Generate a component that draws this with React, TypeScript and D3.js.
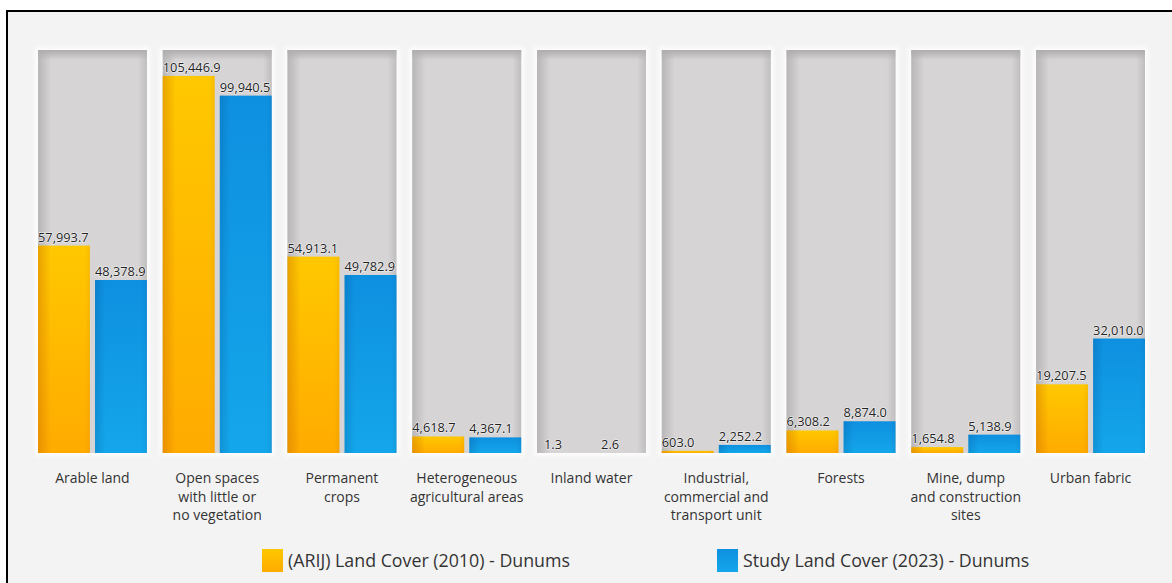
import React from "react";
import * as d3 from "d3";

const categories = [
  "Arable land",
  "Open spaces with little or no vegetation",
  "Permanent crops",
  "Heterogeneous agricultural areas",
  "Inland water",
  "Industrial, commercial and transport unit",
  "Forests",
  "Mine, dump and construction sites",
  "Urban fabric",
];
const categoryLines = [
  ["Arable land"],
  ["Open spaces", "with little or", "no vegetation"],
  ["Permanent", "crops"],
  ["Heterogeneous", "agricultural areas"],
  ["Inland water"],
  ["Industrial,", "commercial and", "transport unit"],
  ["Forests"],
  ["Mine, dump", "and construction", "sites"],
  ["Urban fabric"],
];
const arij2010 = [57993.7, 105446.9, 54913.1, 4618.7, 1.3, 603.0, 6308.2, 1654.8, 19207.5];
const study2023 = [48378.9, 99940.5, 49782.9, 4367.1, 2.6, 2252.2, 8874.0, 5138.9, 32010.0];
const seriesNames = ["(ARIJ) Land Cover (2010) - Dunums", "Study Land Cover (2023) - Dunums"];
const seriesKeys = ["arij", "study"];
const yMax = 112700;

const W = 1172;
const H = 583;
const FONT = "'Open Sans', 'DejaVu Sans', sans-serif";

export default function App() {
  const x = d3.scaleBand<string>().domain(categories).range([38, 1145]).paddingInner(0.127).paddingOuter(0);
  const xs = d3.scaleBand<string>().domain(seriesKeys).range([0, x.bandwidth()]).paddingInner(0.09);
  const y = d3.scaleLinear().domain([0, yMax]).range([453, 50]);
  const fmt = d3.format(",.1f");
  const series = [arij2010, study2023];
  const fills = ["url(#gYellow)", "url(#gBlue)"];
  const legendX = [262, 717];

  return (
    <div style={{ position: "fixed", left: 0, top: 0, width: W, height: H }}>
      <svg width={W} height={H} style={{ display: "block" }}>
        <defs>
          <linearGradient id="gYellow" x1="0" y1="0" x2="0" y2="1">
            <stop offset="0" stopColor="#ffc800" />
            <stop offset="1" stopColor="#ffab00" />
          </linearGradient>
          <linearGradient id="gBlue" x1="0" y1="0" x2="0" y2="1">
            <stop offset="0" stopColor="#0e90e0" />
            <stop offset="1" stopColor="#14a6ea" />
          </linearGradient>
          <linearGradient id="gEdge" x1="0" y1="0" x2="1" y2="0">
            <stop offset="0" stopColor="#c06000" stopOpacity="0.35" />
            <stop offset="0.25" stopColor="#c06000" stopOpacity="0" />
            <stop offset="0.9" stopColor="#c06000" stopOpacity="0" />
            <stop offset="1" stopColor="#c06000" stopOpacity="0.12" />
          </linearGradient>
          <linearGradient id="gEdgeB" x1="0" y1="0" x2="1" y2="0">
            <stop offset="0" stopColor="#004080" stopOpacity="0.2" />
            <stop offset="0.2" stopColor="#004080" stopOpacity="0" />
            <stop offset="0.9" stopColor="#004080" stopOpacity="0" />
            <stop offset="1" stopColor="#004080" stopOpacity="0.1" />
          </linearGradient>
          <linearGradient id="gPanelTop" x1="0" y1="0" x2="0" y2="1">
            <stop offset="0" stopColor="#a9a7a7" stopOpacity="0.9" />
            <stop offset="1" stopColor="#a9a7a7" stopOpacity="0" />
          </linearGradient>
          <linearGradient id="gPanelSide" x1="0" y1="0" x2="1" y2="0">
            <stop offset="0" stopColor="#b0aeae" stopOpacity="0.8" />
            <stop offset="0.12" stopColor="#b0aeae" stopOpacity="0" />
            <stop offset="0.92" stopColor="#b0aeae" stopOpacity="0" />
            <stop offset="1" stopColor="#b0aeae" stopOpacity="0.6" />
          </linearGradient>
          <filter id="glow" x="-10%" y="-10%" width="120%" height="120%">
            <feGaussianBlur stdDeviation="2" />
          </filter>
        </defs>
        <rect x={0} y={0} width={W} height={H} fill="#ffffff" />
        <rect x={8} y={12} width={W - 8} height={H - 12} fill="#f3f3f3" />
        <line x1={7} x2={W} y1={11} y2={11} stroke="#000" strokeWidth={2} />
        <line x1={7} x2={7} y1={10} y2={H} stroke="#000" strokeWidth={2} />

        {categories.map((c, i) => {
          const px = x(c)!;
          const pw = x.bandwidth();
          const top = y(yMax);
          const ph = y(0) - top;
          return (
            <g key={c}>
              <rect x={px - 3} y={top - 3} width={pw + 6} height={ph + 6} fill="#fdfdfd" filter="url(#glow)" />
              <rect x={px} y={top} width={pw} height={ph} fill="#d6d4d4" />
              <rect x={px} y={top} width={pw} height={10} fill="url(#gPanelTop)" />
              <rect x={px} y={top} width={pw} height={ph} fill="url(#gPanelSide)" />
              {series.map((s, j) => {
                const bx = px + xs(seriesKeys[j])!;
                const by = y(s[i]);
                const bh = y(0) - by;
                return (
                  <g key={j}>
                    <rect x={bx} y={by} width={xs.bandwidth()} height={bh} fill={fills[j]} />
                    <rect x={bx} y={by} width={xs.bandwidth()} height={bh} fill={j === 0 ? "url(#gEdge)" : "url(#gEdgeB)"} />
                  </g>
                );
              })}
              {series.map((s, j) => {
                const bx = px + xs(seriesKeys[j])!;
                const by = y(s[i]);
                return (
                  <text key={"t" + j} x={bx + (s[i] < 10 ? 7 : 0)} y={by - 4} fontFamily={FONT} fontSize={12.8}
                    letterSpacing={0} fill="#222" style={{ paintOrder: "stroke" }} stroke="#f4f4f4" strokeWidth={1.2}>
                    {fmt(s[i])}
                  </text>
                );
              })}
              <text x={px + pw / 2} y={483} textAnchor="middle" fontFamily={FONT} fontSize={14} fill="#333">
                {categoryLines[i].map((l, k) => (
                  <tspan key={k} x={px + pw / 2} dy={k === 0 ? 0 : 18.5}>{l}</tspan>
                ))}
              </text>
            </g>
          );
        })}

        {seriesNames.map((n, j) => (
          <g key={n}>
            <rect x={legendX[j]} y={549} width={21} height={23} fill={fills[j]} />
            <text x={legendX[j] + 26} y={567} fontFamily={FONT} fontSize={17.8} fill="#333">{n}</text>
          </g>
        ))}
      </svg>
    </div>
  );
}
